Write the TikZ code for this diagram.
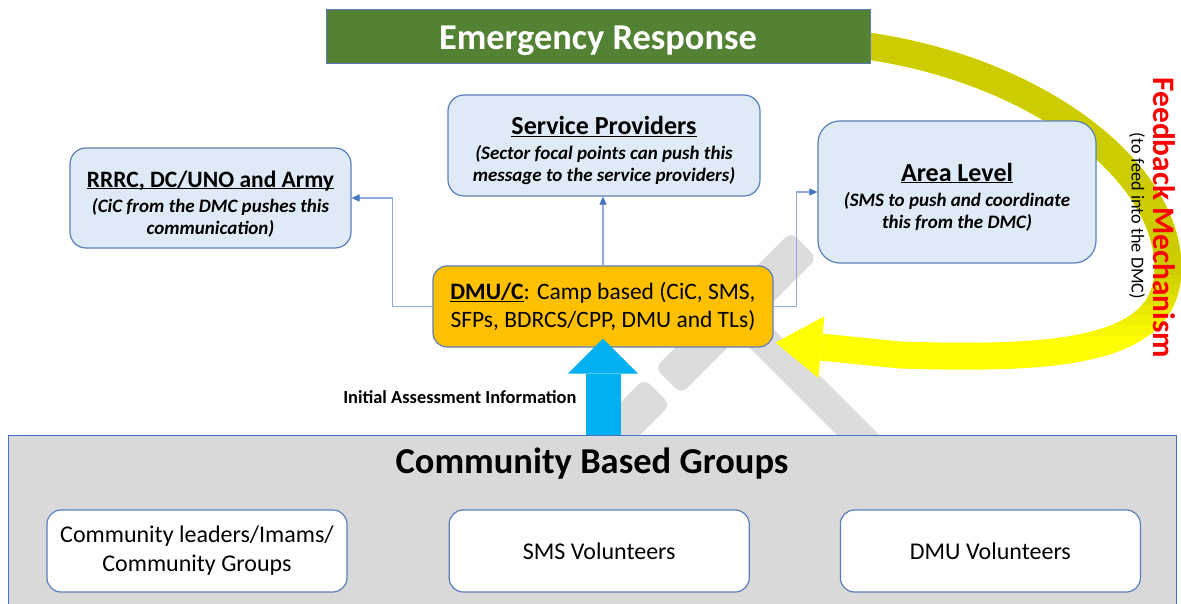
\documentclass[tikz,border=0pt]{standalone}
\usepackage{fontspec}
\setmainfont{Carlito}
\usetikzlibrary{arrows.meta,positioning,calc,backgrounds}

\definecolor{ergreen}{HTML}{548235}
\definecolor{boxblue}{HTML}{DEEBF7}
\definecolor{edgeblue}{HTML}{5B7EB9}
\definecolor{dmuorange}{HTML}{FFC000}
\definecolor{linkblue}{HTML}{8FAADC}
\definecolor{tipblue}{HTML}{4472C4}
\definecolor{upblue}{HTML}{00B0F0}
\definecolor{panelgray}{HTML}{D9D9D9}
\definecolor{markgray}{HTML}{DCDCDC}
\definecolor{fbolive}{HTML}{CCCC00}
\definecolor{fbyellow}{HTML}{FFFF00}

\tikzset{
  agency/.style={draw=edgeblue, fill=boxblue, line width=1.2pt, rounded corners=16pt,
    inner sep=0pt, align=center, font=\fontsize{19}{22}\selectfont\bfseries\itshape},
  group/.style={draw=edgeblue, fill=white, line width=1.2pt, rounded corners=14pt,
    minimum width=300pt, minimum height=82pt, inner sep=0pt, align=center,
    font=\fontsize{24}{29}\selectfont},
  link/.style={draw=linkblue, line width=1.1pt, -{Triangle[length=8pt,width=7pt,color=tipblue]}},
  wmark/.style={fill=markgray, rounded corners=8pt, inner sep=0pt},
  fbband/.style={line width=27pt},
  upflow/.style={draw=upblue, line width=35pt, -{Triangle[length=35pt,width=70pt,line width=0pt]}}
}
\newcommand{\boxhead}[2][26]{{\fontsize{#1}{28}\selectfont\upshape\underline{\raisebox{0pt}[28pt][0pt]{#2}}}}

\begin{document}
\begin{tikzpicture}[x=1pt,y=-1pt]
  \useasboundingbox (0,0) rectangle (1181,604);

  \node[draw=edgeblue, fill=ergreen, minimum width=544pt, minimum height=54pt, inner sep=0pt,
    text=white, font=\fontsize{36.4}{42}\selectfont\bfseries] (er) at (598,36)
    {\raisebox{-14pt}[0pt][0pt]{Emergency Response}};

  \node[agency, minimum width=281pt, minimum height=100pt] (rrrc) at (210.5,198)
    {\boxhead[23.5]{RRRC, DC/UNO and Army}\\[3pt](CiC from the DMC pushes this\\communication)};
  \node[agency, minimum width=312pt, minimum height=101pt] (sp) at (604,145.5)
    {\boxhead{Service Providers}\\[3pt](Sector focal points can push this\\message to the service providers)};
  \node[agency, rounded corners=22pt, minimum width=278pt, minimum height=142pt] (area) at (957,192)
    {\boxhead{Area Level}\\[3pt](SMS to push and coordinate\\this from the DMC)};

  \node[draw=edgeblue, fill=dmuorange, line width=1.2pt, rounded corners=14pt, minimum width=340pt,
    minimum height=81pt, inner sep=0pt, align=center, font=\fontsize{23.5}{28}\selectfont] (dmu) at (603,306.5)
    {\textbf{\underline{\smash{DMU/C}}}: Camp based (CiC, SMS,\\SFPs, BDRCS/CPP, DMU and TLs)};

  \node[draw=tipblue, fill=panelgray, line width=1pt, minimum width=1168pt, minimum height=175pt,
    inner sep=0pt] (cbg) at (592,522.5) {};
  \node[font=\fontsize{36.5}{42}\selectfont\bfseries] (cbgtitle) at (592,464) {Community Based Groups};
  \node[group] (leaders) at (197,551) {Community leaders/Imams/\\Community Groups};
  \node[group, right=101pt of leaders] (smsvol) {SMS Volunteers};
  \node[group, right=90pt of smsvol] (dmuvol) {DMU Volunteers};

  \node[anchor=east, font=\fontsize{18.4}{22}\selectfont\bfseries] (initinfo) at (580,397) {Initial Assessment Information};
  \node[rotate=-90, text=red, font=\fontsize{31.3}{36}\selectfont\bfseries] (fbtitle) at (1164,218) {Feedback Mechanism};
  \node[rotate=-90, font=\fontsize{18.2}{22}\selectfont] (fbnote) at (1137,216) {(to feed into the DMC)};

  \draw[link] (dmu.west) -- ++(-40,0) |- (rrrc.east);
  \draw[link] (dmu.north) -- (dmu.north |- sp.south);
  \draw[link] (dmu.east) -- ++(23,0) |- (area.west);

  \draw[upflow] (dmu.south |- cbg.north) -- ([yshift=9pt]dmu.south);

  \coordinate (fbstart) at ([xshift=-10pt,yshift=-9pt]er.east);
  \coordinate (fbend) at ([xshift=2pt,yshift=-36pt]dmu.east);

  \begin{scope}[on background layer]
    \node[wmark, minimum width=192pt, minimum height=37pt, rotate=45] (head) at (736,313) {};
    \node[wmark, minimum width=80pt, minimum height=37pt, rotate=45] (claw) at (629,420) {};
    \node[wmark, minimum width=200pt, minimum height=30pt, rotate=-45] (handle) at (807,384) {};

    \draw[fbband, fbyellow, -{Triangle[length=46pt,width=62pt,line width=0pt]}] (fbstart)
      .. controls (1035,68) and (1168,170) .. (1168,268)
      .. controls (1168,352) and (1060,360) .. (900,355) -- (fbend);
    \begin{scope}
      \clip (0,0) rectangle (1181,275);
      \draw[fbband, fbolive] (fbstart) .. controls (1035,68) and (1168,170) .. (1168,268)
        .. controls (1168,352) and (1060,360) .. (900,355);
    \end{scope}
    \foreach \k [evaluate=\k as \pct using int(100-14*\k)] in {1,...,6} {
      \begin{scope}
        \clip (0,{265+10*\k}) rectangle (1181,{275+10*\k});
        \draw[fbband, fbolive!\pct!fbyellow] (1168,200) -- (1168,268)
          .. controls (1168,352) and (1060,360) .. (900,355);
      \end{scope}
    }
  \end{scope}
\end{tikzpicture}
\end{document}
